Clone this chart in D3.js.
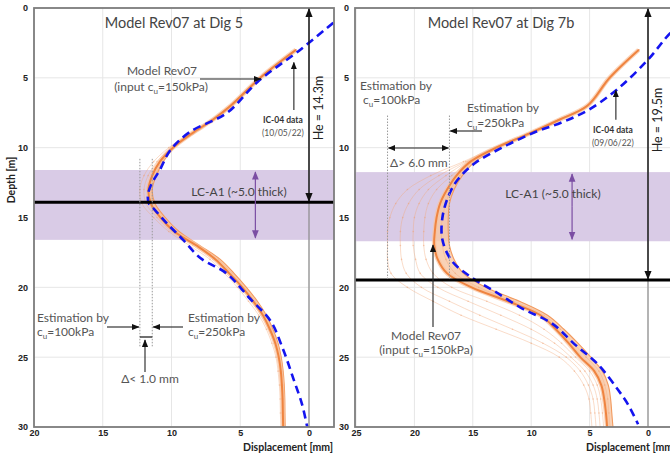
<!DOCTYPE html>
<html>
<head>
<meta charset="utf-8">
<script src="https://cdn.jsdelivr.net/npm/d3@7"></script>
<style>
  body { margin: 0; background: #fff; }
  svg { display: block; font-family: Lato, "Open Sans", sans-serif; }
  .tick text { font-weight: bold; font-size: 9px; fill: #222; }
</style>
</head>
<body>
<svg id="chart" width="670" height="454"></svg>
<script>
// depth points of the model curves [m]
var depthGrid = [3,5,7,8,9,10,11,12,13,14,15,16,17,18,19,20,21,22,23,24,25,26,27,28,29,30];

// Dig 5 model displacements [mm] for each cu
var dig5Cu100 = [0.95,3.6,5.8,7.15,8.7,10.2,11.3,12.0,12.3,12.15,11.3,10.2,8.7,7.2,6.15,5.2,4.4,3.65,3.1,2.7,2.4,2.25,2.15,2.1,2.08,2.05];
var dig5Cu120 = [0.95,3.58,5.75,7.08,8.6,10.05,11.05,11.7,12.0,11.85,11.05,10.0,8.45,7.0,6.0,5.0,4.2,3.5,2.95,2.55,2.3,2.15,2.05,2.0,1.98,1.96];
var dig5Cu150 = [0.95,3.55,5.7,7.0,8.55,9.9,10.85,11.4,11.68,11.5,10.8,9.8,8.2,6.8,5.8,4.85,4.05,3.35,2.85,2.45,2.2,2.05,1.97,1.92,1.9,1.88];
var dig5Cu200 = [0.95,3.52,5.65,6.95,8.45,9.85,10.7,11.2,11.5,11.3,10.6,9.6,8.1,6.6,5.6,4.7,3.9,3.2,2.72,2.35,2.1,1.95,1.88,1.84,1.82,1.8];
var dig5Cu250 = [0.95,3.5,5.6,6.9,8.4,9.8,10.6,11.1,11.4,11.2,10.45,9.45,7.95,6.45,5.45,4.55,3.75,3.1,2.62,2.25,2.02,1.88,1.8,1.76,1.75,1.73];

// Dig 7b model displacements [mm] for each cu
var dig7Cu100 = [0.8,3.3,5.25,7.7,10.3,13.2,15.8,18.6,20.6,21.6,22.1,22.3,22.3,22.3,22.0,20.6,18.4,16.0,13.0,10.0,7.6,6.3,5.5,5.05,4.9,4.8];
var dig7Cu110 = [0.8,3.3,5.25,7.7,10.25,13.15,15.6,17.9,19.6,20.5,21.0,21.2,21.2,21.1,20.7,19.4,17.0,14.4,11.6,9.0,7.0,5.8,5.1,4.7,4.55,4.45];
var dig7Cu120 = [0.8,3.3,5.2,7.65,10.2,13.1,15.45,17.3,18.8,19.6,20.0,20.1,20.1,19.9,19.5,18.0,15.4,12.6,10.0,8.0,6.6,5.4,4.7,4.35,4.2,4.1];
var dig7Cu130 = [0.8,3.3,5.2,7.6,10.2,13.05,15.35,16.8,18.1,18.8,19.1,19.2,19.2,19.0,18.4,16.8,13.8,11.0,8.9,7.4,6.2,5.0,4.35,4.05,3.9,3.8];
var dig7Cu150 = [0.8,3.3,5.2,7.6,10.2,13.0,15.2,16.4,17.2,17.8,18.1,18.25,18.3,18.0,17.2,15.1,12.0,9.2,7.9,6.8,5.8,4.6,4.0,3.75,3.6,3.5];
var dig7Cu200 = [0.8,3.25,5.15,7.55,10.1,12.9,15.0,16.1,16.9,17.3,17.6,17.7,17.6,17.3,16.5,14.5,11.5,8.9,7.5,6.4,5.3,4.2,3.7,3.45,3.35,3.25];
var dig7Cu250 = [0.8,3.2,5.1,7.5,10.0,12.8,14.8,15.9,16.6,17.0,17.1,17.1,17.0,16.6,15.8,13.9,11.0,8.6,7.2,6.0,4.9,3.9,3.4,3.2,3.1,3.0];

// IC-04 inclinometer data
var dig5IcDepth = [0.5,1.0,3.0,5.3,7.5,8.9,10.2,11.6,12.5,13.3,14.0,14.3,15.4,16.6,17.9,19.0,20.8,22.4,24.4,26.5,28.4,30.0];
var dig5IcDisp  = [-2.5,-1.85,0.65,3.75,5.95,8.7,10.1,10.85,11.4,11.7,11.65,11.35,10.35,9.15,7.9,6.0,4.3,2.8,1.9,1.15,0.5,0.13];
var dig7IcDepth = [1.2,1.8,3.7,5.8,7.3,8.2,8.9,10.0,11.1,12.3,13.5,15.0,16.6,18.1,19.3,20.3,21.5,22.6,24.1,25.5,27.3,28.4,29.8];
var dig7IcDisp  = [-2.8,-1.9,0,2.6,5.1,7.4,9.7,12.5,14.8,16.3,17.1,17.6,17.6,16.8,15.1,13.1,10.8,8.2,6.25,4.3,2.6,1.7,0.85];

// ticks
var depthTicks = [0,5,10,15,20,25,30];
var dig5DispTicks = [20,15,10,5,0];
var dig7DispTicks = [25,20,15,10,5,0];

// layers / excavation
var dig5Layer = [11.6, 16.6];
var dig7Layer = [11.75, 16.7];
var dig5HeLine = 13.9, dig7HeLine = 19.47;
var dig5Estimates = [12.3, 11.4];
var dig7Estimates = [22.3, 17.0];

var svg = d3.select("#chart");
var defs = svg.append("defs");

function marker(id, color) {
  defs.append("marker")
    .attr("id", id)
    .attr("viewBox", "0 0 10 10")
    .attr("refX", 9).attr("refY", 5)
    .attr("markerWidth", 7).attr("markerHeight", 7)
    .attr("orient", "auto-start-reverse")
    .append("path")
    .attr("d", "M0,1 L10,5 L0,9 z")
    .attr("fill", color);
}
marker("arr", "#111");
marker("arrPurple", "#7b4ea3");

var y = d3.scaleLinear().domain([0, 30]).range([8, 427]);

function drawPanel(p) {
  var x = d3.scaleLinear().domain(p.xDomain).range(p.xRange);
  var g = svg.append("g");

  defs.append("clipPath").attr("id", p.id + "clip")
    .append("rect")
    .attr("x", p.left).attr("y", 8)
    .attr("width", p.right - p.left).attr("height", 419);

  // grid
  g.selectAll(".vg").data(p.dispTicks).enter().append("line")
    .attr("x1", function(d) { return x(d); }).attr("x2", function(d) { return x(d); })
    .attr("y1", 8).attr("y2", 427)
    .attr("stroke", "#e6e6e6").attr("stroke-width", 1);
  g.selectAll(".hg").data(depthTicks).enter().append("line")
    .attr("x1", p.left).attr("x2", p.right)
    .attr("y1", function(d) { return y(d); }).attr("y2", function(d) { return y(d); })
    .attr("stroke", "#e6e6e6").attr("stroke-width", 1);

  // LC-A1 layer
  g.append("rect")
    .attr("x", p.left).attr("width", p.right - p.left)
    .attr("y", y(p.layer[0])).attr("height", y(p.layer[1]) - y(p.layer[0]))
    .attr("fill", "#d9cbe6");

  // zero line
  g.append("line")
    .attr("x1", x(0)).attr("x2", x(0)).attr("y1", 8).attr("y2", 427)
    .attr("stroke", "#8a8a8a").attr("stroke-width", 1.2);

  var curves = g.append("g").attr("clip-path", "url(#" + p.id + "clip)");

  // band between cu150 and cu250
  var area = d3.area()
    .y(function(d, i) { return y(depthGrid[i]); })
    .x0(function(d) { return x(d[0]); })
    .x1(function(d) { return x(d[1]); })
    .curve(d3.curveCatmullRom);
  curves.append("path")
    .datum(p.main.map(function(v, i) { return [v, p.band[i]]; }))
    .attr("d", area)
    .attr("fill", "#f8c7a4").attr("opacity", 0.8);

  var line = d3.line()
    .x(function(d) { return x(d); })
    .y(function(d, i) { return y(depthGrid[i]); })
    .curve(d3.curveCatmullRom);

  p.thin.forEach(function(s) {
    curves.append("path").datum(s).attr("d", line)
      .attr("fill", "none").attr("stroke", "#f3a779")
      .attr("stroke-width", 0.8).attr("opacity", 0.5);
    curves.selectAll(null).data(s).enter().append("circle")
      .attr("cx", function(d) { return x(d); })
      .attr("cy", function(d, i) { return y(depthGrid[i]); })
      .attr("r", 0.8).attr("fill", "#f0a070").attr("opacity", 0.5);
  });
  curves.append("path").datum(p.band).attr("d", line)
    .attr("fill", "none").attr("stroke", "#f29a5e").attr("stroke-width", 1.1);
  curves.append("path").datum(p.main).attr("d", line)
    .attr("fill", "none").attr("stroke", "#f9c39e").attr("stroke-width", 4.5).attr("opacity", 0.7);
  curves.append("path").datum(p.main).attr("d", line)
    .attr("fill", "none").attr("stroke", "#ef8440").attr("stroke-width", 2);

  // IC-04 data
  var icLine = d3.line()
    .x(function(d) { return x(d); })
    .y(function(d, i) { return y(p.icDepth[i]); })
    .curve(d3.curveCatmullRom);
  curves.append("path").datum(p.icDisp).attr("d", icLine)
    .attr("fill", "none").attr("stroke", "#1414f0")
    .attr("stroke-width", 2.6).attr("stroke-dasharray", "8,5");

  // excavation level
  g.append("line")
    .attr("x1", p.left).attr("x2", p.right)
    .attr("y1", y(p.he)).attr("y2", y(p.he))
    .attr("stroke", "#000").attr("stroke-width", 3);

  // border
  g.append("rect")
    .attr("x", p.left).attr("y", 8)
    .attr("width", p.right - p.left).attr("height", 419)
    .attr("fill", "none").attr("stroke", "#7d7d7d").attr("stroke-width", 1.8);

  // axes
  g.append("g").attr("transform", "translate(0,427)")
    .call(d3.axisBottom(x).tickValues(p.dispTicks).tickSize(0).tickPadding(3))
    .call(function(a) { a.select(".domain").remove(); });
  g.append("g").attr("transform", "translate(" + (p.left - 3) + ",0)")
    .call(d3.axisLeft(y).tickValues(depthTicks).tickSize(0).tickPadding(3))
    .call(function(a) { a.select(".domain").remove(); });

  g.append("text")
    .attr("x", p.xLabelEnd).attr("y", 451)
    .attr("text-anchor", "end")
    .attr("font-weight", "bold").attr("font-size", 10.5).attr("fill", "#222")
    .text("Displacement [mm]");

  // title
  g.append("text")
    .attr("x", p.titleX).attr("y", 28)
    .attr("text-anchor", "middle")
    .attr("font-size", 14.5).attr("fill", "#444")
    .text(p.title);

  // He arrow
  g.append("line")
    .attr("x1", x(0)).attr("x2", x(0))
    .attr("y1", y(p.he) / 2 + 4).attr("y2", 9)
    .attr("stroke", "#111").attr("stroke-width", 1.3)
    .attr("marker-end", "url(#arr)");
  g.append("line")
    .attr("x1", x(0)).attr("x2", x(0))
    .attr("y1", y(p.he) / 2 + 4).attr("y2", y(p.he) - 1)
    .attr("stroke", "#111").attr("stroke-width", 1.3)
    .attr("marker-end", "url(#arr)");
  g.append("text")
    .attr("transform", "translate(" + (x(0) + 14) + "," + p.heTextY + ") rotate(-90)")
    .attr("text-anchor", "middle")
    .attr("font-size", 12.5).attr("fill", "#222")
    .text(p.heText);

  // layer arrow + label
  var ly0 = y(p.layer[0]), ly1 = y(p.layer[1]);
  g.append("line")
    .attr("x1", x(p.layerArrowX)).attr("x2", x(p.layerArrowX))
    .attr("y1", (ly0 + ly1) / 2).attr("y2", ly0 + 2)
    .attr("stroke", "#7b4ea3").attr("stroke-width", 1.2)
    .attr("marker-end", "url(#arrPurple)");
  g.append("line")
    .attr("x1", x(p.layerArrowX)).attr("x2", x(p.layerArrowX))
    .attr("y1", (ly0 + ly1) / 2).attr("y2", ly1 - 2)
    .attr("stroke", "#7b4ea3").attr("stroke-width", 1.2)
    .attr("marker-end", "url(#arrPurple)");
  g.append("text")
    .attr("x", p.layerTextX).attr("y", y(p.layer[0]) + 26)
    .attr("text-anchor", "middle")
    .attr("font-size", 12).attr("fill", "#444")
    .text("LC-A1 (~5.0 thick)");

  // IC-04 label and arrow
  g.append("line")
    .attr("x1", x(p.icArrow[0])).attr("x2", x(p.icArrow[0]))
    .attr("y1", y(p.icArrow[2])).attr("y2", y(p.icArrow[1]))
    .attr("stroke", "#222").attr("stroke-width", 1.1)
    .attr("marker-end", "url(#arr)");
  g.append("text")
    .attr("x", x(p.icArrow[0]) + p.icTextDx).attr("y", y(p.icArrow[2]) + 13)
    .attr("text-anchor", "middle")
    .attr("font-size", 8.5).attr("font-weight", "bold").attr("fill", "#333")
    .text("IC-04 data");
  g.append("text")
    .attr("x", x(p.icArrow[0]) + p.icTextDx).attr("y", y(p.icArrow[2]) + 26)
    .attr("text-anchor", "middle")
    .attr("font-size", 8.5).attr("fill", "#555")
    .text(p.icDate);

  // estimation lines
  g.selectAll(".est").data(p.estimates).enter().append("line")
    .attr("x1", function(d) { return x(d); }).attr("x2", function(d) { return x(d); })
    .attr("y1", y(p.estRange[0])).attr("y2", y(p.estRange[1]))
    .attr("stroke", "#999").attr("stroke-width", 1)
    .attr("stroke-dasharray", "1.5,1.5");

  return { x: x, g: g };
}

function cuText(g, xPos, yPos, anchor, prefix, value) {
  var t = g.append("text")
    .attr("x", xPos).attr("y", yPos)
    .attr("text-anchor", anchor)
    .attr("font-size", 12).attr("fill", "#555");
  t.append("tspan").text(prefix + "c");
  t.append("tspan").attr("font-size", 8).attr("dy", 3).text("u");
  t.append("tspan").attr("dy", -3).text("=" + value + "kPa" + (prefix ? ")" : ""));
  return t;
}

function plainText(g, xPos, yPos, anchor, s) {
  return g.append("text")
    .attr("x", xPos).attr("y", yPos)
    .attr("text-anchor", anchor)
    .attr("font-size", 12).attr("fill", "#555")
    .text(s);
}

function arrow(g, x1, y1, x2, y2, both) {
  var l = g.append("line")
    .attr("x1", x1).attr("y1", y1).attr("x2", x2).attr("y2", y2)
    .attr("stroke", "#222").attr("stroke-width", 1.1)
    .attr("marker-end", "url(#arr)");
  if (both) l.attr("marker-start", "url(#arr)");
}

// ---------- Dig 5 ----------
var p5 = drawPanel({
  id: "d5",
  xDomain: [20, 0], xRange: [34, 309], left: 34, right: 334,
  dispTicks: dig5DispTicks,
  layer: dig5Layer, he: dig5HeLine,
  main: dig5Cu150, band: dig5Cu250, thin: [dig5Cu100, dig5Cu120, dig5Cu200],
  icDepth: dig5IcDepth, icDisp: dig5IcDisp,
  title: "Model Rev07 at Dig 5", titleX: 174,
  heText: "He = 14.3m", heTextY: 108,
  layerArrowX: 3.9, layerTextX: 239,
  icArrow: [1.1, 3.9, 7.3], icDate: "(10/05/22)", icTextDx: -11,
  estimates: dig5Estimates, estRange: [10.8, 24.3],
  xLabelEnd: 333
});
(function() {
  var x = p5.x, g = p5.g;
  plainText(g, 162, 75, "middle", "Model Rev07");
  cuText(g, 161, 91, "middle", "(input ", 150);
  arrow(g, 200, 79, x(3.5), 79);
  plainText(g, 37, 322, "start", "Estimation by");
  cuText(g, 37, 336, "start", "", 100);
  arrow(g, 107, 327, x(dig5Estimates[0]) - 1, 327);
  plainText(g, 188, 322, "start", "Estimation by");
  cuText(g, 188, 336, "start", "", 250);
  arrow(g, 183, 327, x(dig5Estimates[1]) + 1, 327);
  g.append("line")
    .attr("x1", x(dig5Estimates[0])).attr("x2", x(dig5Estimates[1]))
    .attr("y1", 337).attr("y2", 337)
    .attr("stroke", "#111").attr("stroke-width", 1.2);
  arrow(g, 145, 372, 145, 340);
  plainText(g, 150, 383, "middle", "\u0394< 1.0 mm");
})();

// ---------- Dig 7b ----------
var p7 = drawPanel({
  id: "d7",
  xDomain: [25, 0], xRange: [356, 648], left: 355, right: 700,
  dispTicks: dig7DispTicks,
  layer: dig7Layer, he: dig7HeLine,
  main: dig7Cu150, band: dig7Cu250, thin: [dig7Cu100, dig7Cu110, dig7Cu120, dig7Cu130, dig7Cu200],
  icDepth: dig7IcDepth, icDisp: dig7IcDisp,
  title: "Model Rev07 at Dig 7b", titleX: 501,
  heText: "He = 19.5m", heTextY: 120,
  layerArrowX: 6.5, layerTextX: 553,
  icArrow: [2.75, 5.9, 8.0], icDate: "(09/06/22)", icTextDx: -3,
  estimates: dig7Estimates, estRange: [7.7, 19.5],
  xLabelEnd: 676
});
(function() {
  var x = p7.x, g = p7.g;
  plainText(g, 360, 90, "start", "Estimation by");
  cuText(g, 363, 104, "start", "", 100);
  plainText(g, 467, 112, "start", "Estimation by");
  cuText(g, 467, 127, "start", "", 250);
  arrow(g, 482, 131, x(dig7Estimates[1]) + 1, 131);
  arrow(g, x(dig7Estimates[0]) + 1, 148, x(dig7Estimates[1]) - 1, 148, true);
  plainText(g, 390, 167, "start", "\u0394> 6.0 mm");
  plainText(g, 426, 340, "middle", "Model Rev07");
  cuText(g, 426, 354, "middle", "(input ", 150);
  arrow(g, 433, 327, 433, 245);
})();

// depth label
svg.append("text")
  .attr("transform", "translate(15,180) rotate(-90)")
  .attr("text-anchor", "middle")
  .attr("font-weight", "bold").attr("font-size", 10.5).attr("fill", "#222")
  .text("Depth [m]");
</script>
</body>
</html>
